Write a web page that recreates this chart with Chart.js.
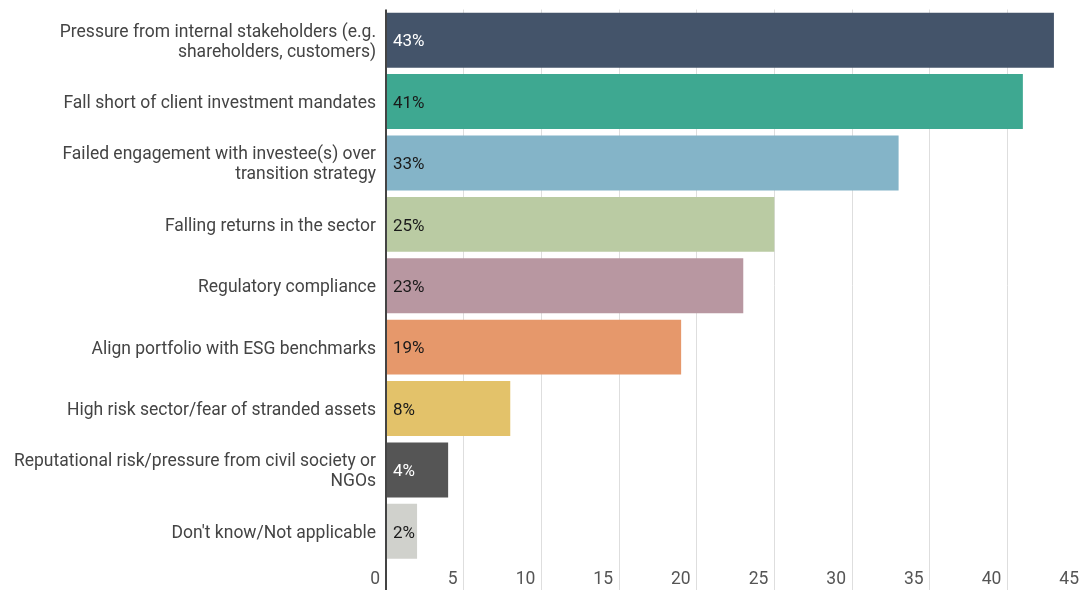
<!DOCTYPE html>
<html>
<head>
<meta charset="utf-8">
<script src="https://cdn.jsdelivr.net/npm/chart.js@4"></script>
<style>
  html, body { margin: 0; padding: 0; background: #fff; overflow: hidden; }
  #wrap { width: 1079px; height: 590px; overflow: hidden; }
</style>
</head>
<body>
<div id="wrap"><canvas id="myBar" width="1085" height="590"></canvas></div>
<script>
// reasons, share of respondents (%)
var reasons = [
    ['Pressure from internal stakeholders (e.g.', 'shareholders, customers)'],
    'Fall short of client investment mandates',
    ['Failed engagement with investee(s) over', 'transition strategy'],
    'Falling returns in the sector',
    'Regulatory compliance',
    'Align portfolio with ESG benchmarks',
    'High risk sector/fear of stranded assets',
    ['Reputational risk/pressure from civil society or', 'NGOs'],
    "Don't know/Not applicable"
];
var shares = [43, 41, 33, 25, 23, 19, 8, 4, 2];
var xTicks = [0, 5, 10, 15, 20, 25, 30, 35, 40, 45];

var barColors = ['#44546a', '#3ea891', '#84b4c8', '#bacba3', '#b897a1', '#e6986b', '#e3c26a', '#555555', '#d0d1cc'];
var labelColors = ['#ffffff', '#1a1a1a', '#1a1a1a', '#1a1a1a', '#1a1a1a', '#1a1a1a', '#1a1a1a', '#ffffff', '#1a1a1a'];

var FONT = 'Roboto, "Noto Sans", sans-serif';

// percent text at the start of every bar
var barText = {
    id: 'barText',
    afterDatasetsDraw: function (chart) {
        var ctx = chart.ctx;
        var meta = chart.getDatasetMeta(0);
        ctx.save();
        ctx.font = '17px ' + FONT;
        ctx.textAlign = 'left';
        ctx.textBaseline = 'middle';
        meta.data.forEach(function (bar, i) {
            ctx.fillStyle = labelColors[i];
            ctx.fillText(shares[i] + '%', bar.base + 6, bar.y + 2);
        });
        ctx.restore();
    }
};

// x tick numbers sit just left of their grid line
var xLabels = {
    id: 'xLabels',
    afterDraw: function (chart) {
        var ctx = chart.ctx;
        var x = chart.scales.x;
        ctx.save();
        ctx.font = '17.5px ' + FONT;
        ctx.fillStyle = '#555555';
        ctx.textAlign = 'right';
        ctx.textBaseline = 'middle';
        xTicks.forEach(function (v) {
            ctx.fillText(String(v), x.getPixelForValue(v) - 6, 580);
        });
        ctx.restore();
    }
};

var ctb = document.getElementById('myBar');
var myBar = new Chart(ctb, {
    type: 'bar',
    data: {
        labels: reasons,
        datasets: [{
            data: shares,
            backgroundColor: barColors,
            borderWidth: 0,
            barPercentage: 0.895,
            categoryPercentage: 1
        }]
    },
    plugins: [barText, xLabels],
    options: {
        indexAxis: 'y',
        responsive: false,
        animation: false,
        layout: { padding: { top: 9.5, right: 0, left: 0, bottom: 0 } },
        plugins: {
            legend: { display: false },
            tooltip: { enabled: false }
        },
        scales: {
            x: {
                min: 0,
                max: 45,
                afterBuildTicks: function (s) {
                    s.ticks = xTicks.map(function (v) { return { value: v }; });
                },
                afterFit: function (s) {
                    s.height = 28;
                    s.paddingLeft = 0;
                    s.paddingRight = 0;
                },
                border: { display: false },
                grid: {
                    drawTicks: true,
                    tickLength: 28,
                    color: function (c) { return c.tick && c.tick.value === 0 ? '#444444' : '#dedede'; },
                    lineWidth: function (c) { return c.tick && c.tick.value === 0 ? 2 : 1; }
                },
                ticks: { display: false }
            },
            y: {
                afterFit: function (s) {
                    s.width = 386;
                    s.paddingTop = 0;
                    s.paddingBottom = 0;
                },
                border: { display: false },
                grid: { display: false, drawTicks: false },
                ticks: {
                    padding: 10,
                    labelOffset: 2,
                    color: '#444444',
                    font: { family: FONT, size: 17.5, lineHeight: '20px' }
                }
            }
        }
    }
});
</script>
</body>
</html>
